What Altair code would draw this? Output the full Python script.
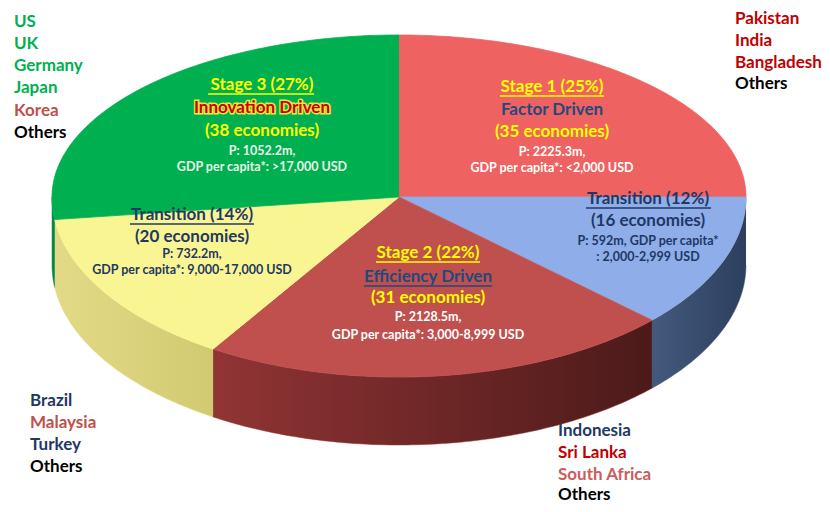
import altair as alt
import pandas as pd
import numpy as np

# ---------------- data ----------------
stages = ["Stage 1", "Transition 1-2", "Stage 2", "Transition 2-3", "Stage 3"]
shares = [25, 12, 22, 14, 27]
economies = [35, 16, 31, 20, 38]
population_m = ["2225.3", "592", "2128.5", "732.2", "1052.2"]
gdp_ranges = ["<2,000", "2,000-2,999", "3,000-8,999", "9,000-17,000", ">17,000"]
drivers = ["Factor Driven", "", "Efficiency Driven", "", "Innovation Driven"]

group_top_left = ["US", "UK", "Germany", "Japan", "Korea", "Others"]
group_top_right = ["Pakistan", "India", "Bangladesh", "Others"]
group_bottom_left = ["Brazil", "Malaysia", "Turkey", "Others"]
group_bottom_right = ["Indonesia", "Sri Lanka", "South Africa", "Others"]

# ---------------- styles ----------------
top_colors = ["#EF6262", "#8EADE9", "#C0504D", "#FAF593", "#00B050"]
wall_grad = {
    "Transition 1-2": ["#44597D", "#2D3F5E"],
    "Stage 2": ["#913434", "#4C1A1A"],
    "Transition 2-3": ["#E2DA86", "#D2CA72"],
    "Stage 3": ["#009444", "#007A38"],
}
NAVY = "#1F3864"
GREEN = "#00B050"
RED = "#C00000"
ROSE = "#C0504D"
YEL = "#FFFF00"
HEAD = 17
SMALL = 12.5

# pie geometry (pixel space of the page)
CX, CY, RX, RY_BACK, RY_FRONT, DEPTH = 399, 197, 347, 162, 180, 68


def pt(t):
    r = np.radians(t)
    c = np.cos(r)
    ry = RY_FRONT if c < 0 else RY_BACK
    return CX + RX * np.sin(r), CY - ry * c


def arc(a, b):
    n = max(2, int(np.ceil(abs(b - a))) + 1)
    return np.linspace(a, b, n)


tops, walls = [], []
start = 0.0
for s, sh in zip(stages, shares):
    end = start + sh * 3.6
    i = 0
    tops.append(dict(slice=s, i=i, x=CX, y=CY)); i += 1
    for t in arc(start, end):
        x, y = pt(t)
        tops.append(dict(slice=s, i=i, x=x, y=y)); i += 1
    lo, hi = max(start, 90), min(end, 270)
    if lo < hi:
        j = 0
        for t in arc(lo, hi):
            x, y = pt(t)
            walls.append(dict(slice=s, i=j, x=x, y=y)); j += 1
        for t in arc(hi, lo):
            x, y = pt(t)
            walls.append(dict(slice=s, i=j, x=x, y=y + DEPTH)); j += 1
    start = end
tops = pd.DataFrame(tops)
walls = pd.DataFrame(walls)

W, H = 814, 496
xs = alt.Scale(domain=[8, 8 + W])
ys = alt.Scale(domain=[8, 8 + H], reverse=True)


def X(f="x"):
    return alt.X(f"{f}:Q", scale=xs, axis=None)


def Y(f="y"):
    return alt.Y(f"{f}:Q", scale=ys, axis=None)


layers = []
for s in stages:
    d = walls[walls.slice == s]
    if len(d) == 0:
        continue
    c0, c1 = wall_grad[s]
    grad = alt.LinearGradient(
        gradient="linear",
        stops=[alt.GradientStop(color=c0, offset=0), alt.GradientStop(color=c1, offset=1)],
        x1=0, x2=1, y1=0, y2=0,
    )
    layers.append(
        alt.Chart(d).mark_line(filled=True, fill=grad, stroke=c0, strokeWidth=0.5)
        .encode(x=X(), y=Y(), order="i:Q")
    )

cscale = alt.Scale(domain=stages, range=top_colors)
layers.append(
    alt.Chart(tops).mark_line(filled=True, strokeWidth=0.8)
    .encode(
        x=X(), y=Y(), order="i:Q",
        color=alt.Color("slice:N", scale=cscale, legend=None),
        stroke=alt.Stroke("slice:N", scale=cscale, legend=None),
    )
)

# ---------------- pie labels ----------------
lab = []
ul = []


def add(x, y, text, color, size):
    lab.append(dict(x=x, y=y, text=text, color=color, size=size))


# Stage 1
add(552, 87, f"{stages[0]} ({shares[0]}%)", YEL, HEAD)
add(552, 110, drivers[0], "#1F497D", HEAD)
add(552, 132, f"({economies[0]} economies)", YEL, HEAD)
add(552, 152, f"P: {population_m[0]}m,", "#FFFFFF", SMALL)
add(552, 168, f"GDP per capita*: {gdp_ranges[0]} USD", "#FFFFFF", SMALL)
ul.append(dict(x=500, x2=604, y=96, color=YEL))
# Transition 12%
add(648, 199, f"Transition ({shares[1]}%)", NAVY, HEAD)
add(648, 221, f"({economies[1]} economies)", NAVY, HEAD)
add(648, 241, f"P: {population_m[1]}m, GDP per capita*", NAVY, SMALL)
add(648, 257, f": {gdp_ranges[1]} USD", NAVY, SMALL)
ul.append(dict(x=586, x2=711, y=208, color=NAVY))
# Stage 2
add(428, 253, f"{stages[2]} ({shares[2]}%)", YEL, HEAD)
add(428, 277, drivers[2], "#1F497D", HEAD)
add(428, 298, f"({economies[2]} economies)", YEL, HEAD)
add(428, 317, f"P: {population_m[2]}m,", "#FFFFFF", SMALL)
add(428, 335, f"GDP per capita*: {gdp_ranges[2]} USD", "#FFFFFF", SMALL)
ul.append(dict(x=376, x2=480, y=262, color=YEL))
ul.append(dict(x=364, x2=492, y=286, color="#1F497D"))
# Transition 14%
add(192, 215, f"Transition ({shares[3]}%)", NAVY, HEAD)
add(192, 237, f"({economies[3]} economies)", NAVY, HEAD)
add(192, 254, f"P: {population_m[3]}m,", NAVY, SMALL)
add(192, 270, f"GDP per capita*: {gdp_ranges[3]} USD", NAVY, SMALL)
ul.append(dict(x=130, x2=254, y=224, color=NAVY))
# Stage 3
add(262, 85, f"{stages[4]} ({shares[4]}%)", YEL, HEAD)
add(262, 131, f"({economies[4]} economies)", YEL, HEAD)
add(262, 151, f"P: {population_m[4]}m,", "#E8F4E8", SMALL)
add(262, 167, f"GDP per capita*: {gdp_ranges[4]} USD", "#E8F4E8", SMALL)
ul.append(dict(x=208, x2=314, y=94, color=YEL))

lab = pd.DataFrame(lab)
ul = pd.DataFrame(ul)

layers.append(
    alt.Chart(ul).mark_rule(strokeWidth=1.5)
    .encode(x=X(), x2="x2:Q", y=Y(), color=alt.Color("color:N", scale=None))
)
layers.append(
    alt.Chart(lab).mark_text(font="Lato", fontWeight="bold", baseline="middle", align="center")
    .encode(x=X(), y=Y(), text="text:N",
            color=alt.Color("color:N", scale=None), size=alt.Size("size:Q", scale=None))
)
innov = pd.DataFrame([dict(x=262, y=108, text=drivers[4])])
layers.append(
    alt.Chart(innov).mark_text(font="Lato", fontWeight="bold", baseline="middle", align="center",
                               fontSize=HEAD, stroke="#E8E83A", strokeWidth=3, color="#E8E83A")
    .encode(x=X(), y=Y(), text="text:N")
)
layers.append(
    alt.Chart(innov).mark_text(font="Lato", fontWeight="bold", baseline="middle", align="center",
                               fontSize=HEAD, color="#CC0000")
    .encode(x=X(), y=Y(), text="text:N")
)

# ---------------- country lists ----------------
rows = []
for name, x, y, col in zip(group_top_left, [14] * 6, [27, 49, 71, 93, 116, 138],
                           [GREEN, GREEN, GREEN, GREEN, ROSE, "#000000"]):
    rows.append(dict(x=x, y=y, text=name, color=col))
for name, x, y, col in zip(group_top_right, [735] * 4, [24, 46, 68, 89],
                           [RED, RED, RED, "#000000"]):
    rows.append(dict(x=x, y=y, text=name, color=col))
for name, x, y, col in zip(group_bottom_left, [30] * 4, [406, 428, 450, 472],
                           [NAVY, ROSE, NAVY, "#000000"]):
    rows.append(dict(x=x, y=y, text=name, color=col))
for name, x, y, col in zip(group_bottom_right, [558] * 4, [436, 458, 480, 500],
                           [NAVY, RED, "#CC5C5C", "#000000"]):
    rows.append(dict(x=x, y=y, text=name, color=col))
countries = pd.DataFrame(rows)
layers.append(
    alt.Chart(countries).mark_text(font="Lato", fontWeight="bold", baseline="alphabetic",
                                   align="left", fontSize=17)
    .encode(x=X(), y=Y(), text="text:N", color=alt.Color("color:N", scale=None))
)

chart = (
    alt.layer(*layers)
    .properties(width=W, height=H, padding=0, autosize="none", background="white")
    .configure_view(stroke=None)
)
chart.save("out.html", embed_options={"renderer": "svg", "actions": False})
